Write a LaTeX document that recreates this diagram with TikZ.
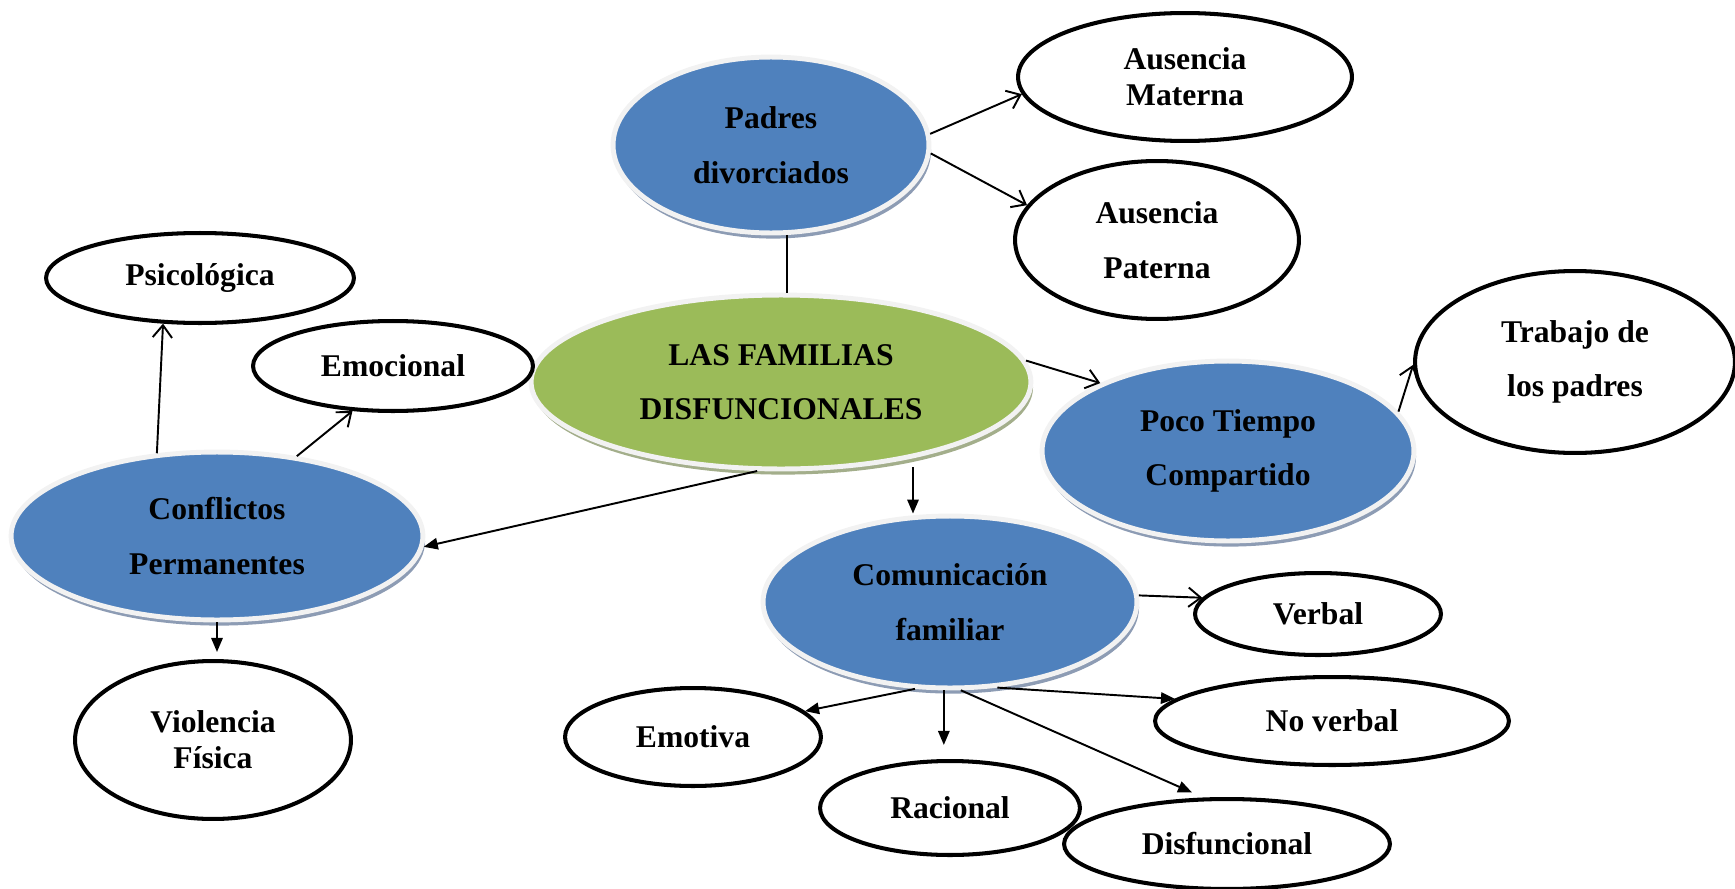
\documentclass[tikz,border=0pt]{standalone}
\usepackage{fontspec}
\setmainfont{Liberation Serif}
\usetikzlibrary{shapes.geometric,shadows,arrows.meta}

\definecolor{azul}{HTML}{4F81BD}
\definecolor{verde}{HTML}{9BBB59}
\definecolor{borde}{HTML}{F2F2F2}
\definecolor{sombraazul}{HTML}{8D9CB4}
\definecolor{sombraverde}{HTML}{A3AE8B}

\begin{document}
\begin{tikzpicture}[x=0.02cm,y=-0.02cm,
        bigstyle/.style={ellipse,fill=azul,draw=borde,line width=2.8pt,inner sep=0pt,align=center,
            font=\fontsize{18}{31}\selectfont\bfseries,
            drop shadow={shadow xshift=1.2pt,shadow yshift=-3.2pt,fill=#1,opacity=1}},
        bigstyle/.default=sombraazul,
        smallstyle/.style={ellipse,draw,fill=white,line width=2.3pt,inner sep=0pt,align=center,
            font=\fontsize{18}{31}\selectfont\bfseries},
        tightfont/.style={font=\fontsize{18}{20.5}\selectfont\bfseries},
        sz/.style 2 args={minimum width=#1*0.04cm,minimum height=#2*0.04cm},
        openarrow/.style={-{Straight Barb[length=7pt,width=11pt]},line width=1.1pt},
        fullarrow/.style={-{Triangle[length=8pt,width=6.5pt]},line width=1.1pt}]
    \useasboundingbox (0,0) rectangle (1735,889);

    % centro
    \node[bigstyle=sombraverde,fill=verde,sz={250}{87}] (familias) at (781,382) {LAS FAMILIAS\\DISFUNCIONALES};

    % ramas principales
    \node[bigstyle,sz={158}{88}] (padres) at (771,145) {Padres\\divorciados};
    \node[bigstyle,sz={206}{84}] (conflictos) at (217,536) {Conflictos\\Permanentes};
    \node[bigstyle,sz={186}{90}] (poco) at (1228,451) {Poco Tiempo\\Compartido};
    \node[bigstyle,sz={187}{86}] (comunicacion) at (950,602) {Comunicación\\familiar};

    % hojas
    \node[smallstyle,tightfont,sz={167}{64}] (materna) at (1185,77) {Ausencia\\Materna};
    \node[smallstyle,sz={142}{79}] (paterna) at (1157,240) {Ausencia\\Paterna};
    \node[smallstyle,sz={154}{45}] (psico) at (200,278) {Psicológica};
    \node[smallstyle,sz={140}{45}] (emocional) at (393,366) {Emocional};
    \node[smallstyle,tightfont,sz={138}{79}] (violencia) at (213,740) {Violencia\\Física};
    \node[smallstyle,sz={160}{91}] (trabajo) at (1575,362) {Trabajo de\\los padres};
    \node[smallstyle,sz={123}{41}] (verbal) at (1318,614) {Verbal};
    \node[smallstyle,sz={177}{44}] (noverbal) at (1332,721) {No verbal};
    \node[smallstyle,sz={128}{49}] (emotiva) at (693,737) {Emotiva};
    \node[smallstyle,sz={130}{47}] (racional) at (950,808) {Racional};
    \node[smallstyle,sz={163}{45}] (disfuncional) at (1227,844) {Disfuncional};

    % flechas abiertas
    \foreach \a/\b in {padres.4/materna.186, padres.357/paterna.165, familias.5/poco.152,
            conflictos.126/psico.231, conflictos.45/emocional.228, poco.13/trabajo.181,
            comunicacion.2/verbal.172}
        \draw[openarrow] (\a) -- (\b);

    % flechas llenas
    \foreach \a/\b in {familias.255/conflictos.357, comunicacion.299/noverbal.172,
            comunicacion.248/emotiva.13}
        \draw[fullarrow] (\a) -- (\b);
    \draw[fullarrow,shorten <=5pt] (familias.330) -- (familias.330 |- comunicacion.north);
    \draw[fullarrow,shorten >=4pt] (conflictos.south) -- (conflictos.south |- violencia.north);
    \draw[fullarrow,shorten >=8pt] (comunicacion.266) -- (comunicacion.266 |- racional.north);
    \draw[fullarrow,shorten >=7pt] (comunicacion.277) -- (disfuncional.117);

    \draw[line width=1.1pt] (padres.280) -- (padres.280 |- familias.north);
\end{tikzpicture}
\end{document}
